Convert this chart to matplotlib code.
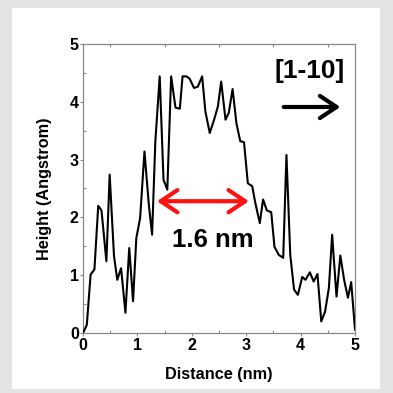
import matplotlib
matplotlib.use("Agg")
import matplotlib.pyplot as plt
from matplotlib.patches import Rectangle, FancyArrowPatch
from matplotlib.ticker import MultipleLocator

plt.rcParams['font.family'] = ['Liberation Sans', 'DejaVu Sans']

# Height profile along the [1-10] direction
distance_nm = [0.00, 0.07, 0.14, 0.21, 0.28, 0.34, 0.43, 0.49, 0.57, 0.63,
               0.70, 0.78, 0.85, 0.92, 0.98, 1.05, 1.13, 1.21, 1.27, 1.33,
               1.41, 1.48, 1.55, 1.62, 1.70, 1.78, 1.83, 1.90, 1.96, 2.04,
               2.11, 2.19, 2.25, 2.33, 2.41, 2.48, 2.54, 2.62, 2.68, 2.75,
               2.82, 2.89, 2.96, 3.03, 3.11, 3.17, 3.25, 3.31, 3.38, 3.46,
               3.52, 3.60, 3.68, 3.74, 3.81, 3.88, 3.95, 4.03, 4.09, 4.17,
               4.24, 4.31, 4.38, 4.45, 4.52, 4.58, 4.66, 4.73, 4.80, 4.87,
               4.93, 5.00]
height_A = [0.00, 0.14, 1.01, 1.10, 2.20, 2.12, 1.24, 2.74, 1.33, 0.92,
            1.12, 0.35, 1.47, 0.55, 1.64, 1.99, 3.14, 2.22, 1.70, 3.32,
            4.44, 2.65, 2.48, 4.44, 3.90, 3.88, 4.44, 4.44, 4.40, 4.24,
            4.26, 4.44, 3.83, 3.46, 3.69, 3.92, 4.35, 3.69, 3.81, 4.22,
            3.63, 3.32, 3.30, 2.59, 2.54, 2.24, 1.90, 2.31, 2.12, 2.09,
            1.49, 1.35, 1.30, 3.08, 1.35, 0.75, 0.66, 0.97, 0.92, 1.05,
            0.89, 1.02, 0.20, 0.37, 0.78, 1.70, 0.63, 1.34, 0.92, 0.61,
            0.88, 0.06]

width_start, width_end, width_level = 1.36, 3.05, 2.28
width_label = "1.6 nm"
direction_label = "[1-10]"

fig = plt.figure(figsize=(3.93, 3.93), dpi=100)
fig.patch.set_facecolor('#e4e4e4')
fig.patches.append(Rectangle((0.0305, 0.0102), 0.9365, 0.9694,
                             transform=fig.transFigure, facecolor='white',
                             edgecolor='none', zorder=-10))

ax = fig.add_axes([0.2112, 0.1527, 0.6921, 0.7354])
ax.set_facecolor('white')
ax.plot(distance_nm, height_A, color='black', lw=1.5, zorder=3)

ax.set_xlim(0, 5)
ax.set_ylim(0, 5)
ax.xaxis.set_major_locator(MultipleLocator(1))
ax.yaxis.set_major_locator(MultipleLocator(1))
ax.xaxis.set_minor_locator(MultipleLocator(0.5))
ax.yaxis.set_minor_locator(MultipleLocator(0.5))
ax.tick_params(which='major', direction='out', length=2.5, width=0.8,
               color='#888888', pad=1.0, labelsize=11.5)
ax.tick_params(axis='y', which='major', pad=0.5)
ax.tick_params(which='minor', direction='in', length=2, width=0.8,
               color='#888888', top=True, right=False)
for lab in ax.get_xticklabels() + ax.get_yticklabels():
    lab.set_fontweight('bold')
for sp in ax.spines.values():
    sp.set_color('#888888')
    sp.set_linewidth(0.9)

ax.set_xlabel('Distance (nm)', fontsize=11.7, fontweight='bold', labelpad=10)
ax.set_ylabel('Height (Angstrom)', fontsize=11.7, fontweight='bold', labelpad=13)

# Width marker
ax.add_patch(FancyArrowPatch((width_start, width_level), (width_end, width_level),
                             arrowstyle='<->,head_length=12,head_width=8',
                             color='#ff1111', lw=3, mutation_scale=1,
                             shrinkA=0, shrinkB=0, zorder=4,
                             joinstyle='round', capstyle='round'))
ax.text((width_start + width_end) / 2 + 0.18, 1.61, width_label, fontsize=18.5,
        fontweight='bold', ha='center', va='center', zorder=5)

# Crystal direction
ax.text(4.17, 4.53, direction_label, fontsize=19, fontweight='bold',
        ha='center', va='center')
ax.add_patch(FancyArrowPatch((3.69, 3.91), (4.73, 3.91),
                             arrowstyle='->,head_length=12,head_width=8',
                             color='black', lw=3, mutation_scale=1,
                             shrinkA=0, shrinkB=0,
                             joinstyle='round', capstyle='round'))

fig.savefig('out.png', dpi=100, facecolor=fig.get_facecolor())
